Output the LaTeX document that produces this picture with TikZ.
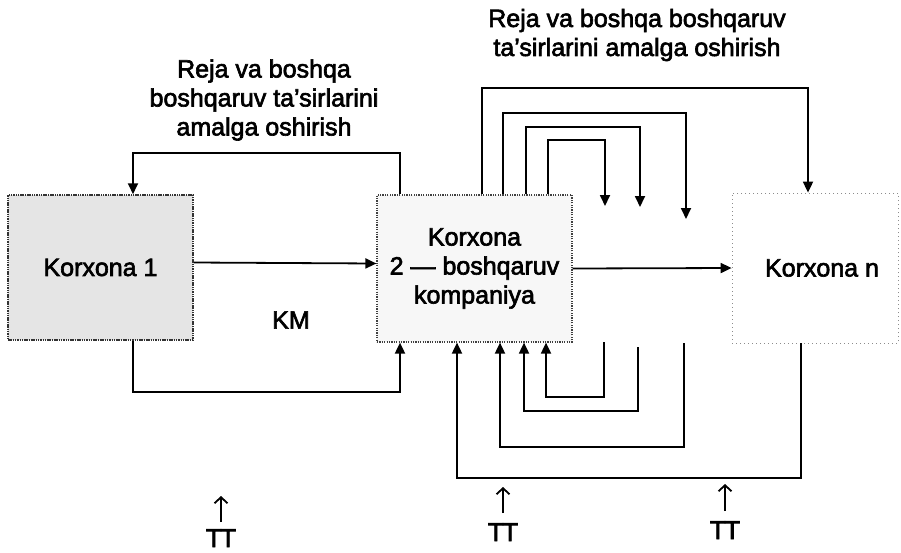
\documentclass[tikz,border=0pt]{standalone}
\usepackage{fontspec}
\setmainfont[FakeBold=2.5]{Liberation Sans}
\usetikzlibrary{arrows.meta}
\begin{document}
\begin{tikzpicture}[x=1pt,y=-1pt,
  txt/.style={font=\fontsize{25}{29}\selectfont, align=center, inner sep=0pt},
  box/.style={rectangle, inner sep=0pt, align=center, font=\fontsize{25}{29}\selectfont},
  conn/.style={line width=1.8pt, draw=black},
  arr/.style={conn, -{Triangle[length=11pt,width=10pt]}},
  uparr/.style={line width=1.8pt, -{Straight Barb[length=6pt,width=13pt,line width=1.8pt]}},
  ttlabel/.style={font=\fontsize{26}{26}\selectfont, inner sep=0pt}
]
\useasboundingbox (0,0) rectangle (901,552);

% boxes
\node[box, minimum width=185pt, minimum height=145pt, fill=gray!20,
      draw=black!80, line width=1.5pt, dash pattern=on 1.5pt off 0.8pt]
      (k1) at (100.5,267.5) {Korxona 1};
\node[box, minimum width=195pt, minimum height=147pt, fill=gray!6,
      draw=black!75, line width=1.2pt, dash pattern=on 1.2pt off 1.2pt]
      (k2) at (474.5,268.5) {Korxona\\2 — boshqaruv\\kompaniya};
\node[box, minimum width=166pt, minimum height=150pt,
      draw=black!45, line width=0.8pt, dash pattern=on 1pt off 3pt]
      (kn) at (815,268) {\hspace*{14pt}Korxona n};

% labels
\node[txt] (lab1) at (264,100) {Reja va boshqa\\boshqaruv ta'sirlarini\\amalga oshirish};
\node[txt] (lab2) at (637,35) {Reja va boshqa boshqaruv\\ta'sirlarini amalga oshirish};
\node[txt] (km) at (291,320) {KM};

% main flow
\draw[arr] ([yshift=5pt]k1.east) -- ([yshift=5pt]k2.west);
\draw[arr] (k2.east) -- (kn.west);

% feedback between 1 and 2
\draw[arr] (400,0 |- k2.north) |- (133,153) -- (133,0 |- k1.north);
\draw[arr] (133,0 |- k1.south) |- (400,392) -- (400,0 |- k2.south);

% top loops
\coordinate (t1) at (686,219);
\coordinate (t2) at (640,207);
\coordinate (t3) at (605,206);
\draw[arr] (482,0 |- k2.north) |- (808,88) -- (808,0 |- kn.north);
\draw[arr] (503,0 |- k2.north) |- (686,113) -- (t1);
\draw[arr] (526,0 |- k2.north) |- (640,127) -- (t2);
\draw[arr] (548,0 |- k2.north) |- (605,140) -- (t3);

% bottom loops
\coordinate (b1) at (604,342);
\coordinate (b2) at (638,347);
\coordinate (b3) at (684,343);
\draw[arr] (b1) |- (546,397) -- (546,0 |- k2.south);
\draw[arr] (b2) |- (524,411) -- (524,0 |- k2.south);
\draw[arr] (b3) |- (500,447) -- (500,0 |- k2.south);
\draw[arr] (801,0 |- kn.south) |- (457,478) -- (457,0 |- k2.south);

% TT labels with arrows
\node[ttlabel, anchor=north] (tt1) at (221,529) {T\kern-1.5pt T};
\node[ttlabel, anchor=north] (tt2) at (503,523) {T\kern-1.5pt T};
\node[ttlabel, anchor=north] (tt3) at (725,521) {T\kern-1.5pt T};
\coordinate (u1) at (221,496);
\coordinate (u2) at (503,487);
\coordinate (u3) at (725,484);
\draw[uparr] ([yshift=7pt]tt1.north) -- (u1);
\draw[uparr] ([yshift=10pt]tt2.north) -- (u2);
\draw[uparr] ([yshift=10pt]tt3.north) -- (u3);
\end{tikzpicture}
\end{document}
